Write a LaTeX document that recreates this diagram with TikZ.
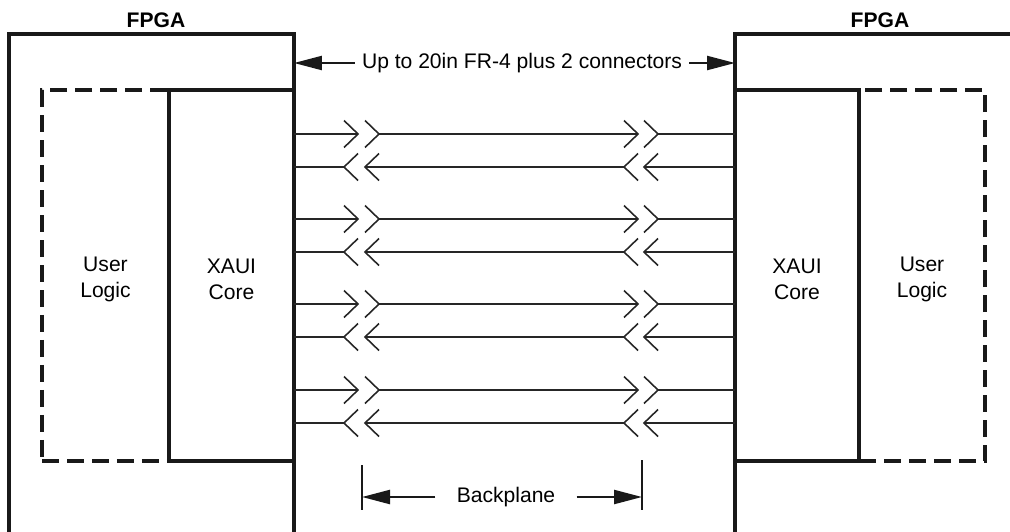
\documentclass[tikz,border=0pt]{standalone}
\usepackage{fontspec}
\setmainfont{Liberation Sans}
\usetikzlibrary{arrows.meta}
\newcommand{\lblfont}{\fontsize{12}{14.8}\selectfont}
\tikzstyle{fpga}=[line width=1.8pt, black!90]
\tikzstyle{core}=[draw=black!90, line width=1.8pt, outer sep=0pt, minimum height=7.42cm]
\tikzstyle{logic}=[core, dash pattern=on 0.34cm off 0.16cm]
\tikzstyle{lbl}=[font=\lblfont, align=center]
\tikzstyle{title}=[font=\lblfont\bfseries]
\tikzstyle{lane}=[line width=1pt, black!85]
\tikzstyle{chev}=[line width=0.9pt, black!85]
\tikzstyle{dim}=[line width=1.3pt, black!90, -{Triangle[length=0.56cm,width=0.28cm]}]
\tikzstyle{bar}=[line width=1.3pt, black!90]

\begin{document}
\begin{tikzpicture}[x=0.02cm, y=-0.02cm]
\useasboundingbox (0,0) rectangle (1010,531);
% the two FPGAs
\draw[fpga] (9,540) -- (9,34) -- (294,34) -- (294,540);
\draw[fpga] (1020,34) -- (735,34) -- (735,540);
\node[title] (fpgaL) at (156,20) {FPGA};
\node[title] (fpgaR) at (880,20) {FPGA};
% blocks inside
\node[logic, minimum width=2.54cm] (userL) at (105.5,275.5) {};
\node[core, minimum width=2.5cm] (coreL) at (231.5,275.5) {};
\node[logic, minimum width=2.52cm] (userR) at (922,275.5) {};
\node[core, minimum width=2.48cm] (coreR) at (797,275.5) {};
\node[lbl] (userLtxt) at ([yshift=-0.08cm]userL.center) {User\\Logic};
\node[lbl] (coreLtxt) at ([yshift=-0.08cm]coreL.center) {XAUI\\Core};
\node[lbl] (coreRtxt) at ([yshift=-0.08cm]coreR.center) {XAUI\\Core};
\node[lbl] (userRtxt) at ([yshift=-0.08cm]userR.center) {User\\Logic};
% four lanes, each a pair through two connectors
\foreach \y in {134,219,304,390}{
    \coordinate (tx) at (0,\y);
    \coordinate (rx) at (0,\y+33);
    \draw[lane] (coreL.east |- tx) -- (358,\y) (379,\y) -- (638,\y) (658,\y) -- (coreR.west |- tx);
    \draw[lane] (coreR.west |- rx) -- (645,\y+33) (624,\y+33) -- (365,\y+33) (344,\y+33) -- (coreL.east |- rx);
    \foreach \x in {358,379,638,658}{
        \draw[chev] (\x-14,\y-13.5) -- (\x,\y) -- (\x-14,\y+13.5);
        \draw[chev] (\x,\y+19.5) -- (\x-14,\y+33) -- (\x,\y+46.5);
    }
}
% dimensions
\node[font=\lblfont, inner sep=4pt] (span) at (522,63) {Up to 20in FR-4 plus 2 connectors};
\draw[dim] (span.west) -- (span.west -| coreL.east);
\draw[dim] (span.east) -- (span.east -| coreR.west);
\coordinate (bpL) at (362,497);
\coordinate (bpR) at (642,497);
\node[font=\lblfont, inner xsep=12pt] (bp) at (506,497) {Backplane};
\draw[bar] (bpL) ++(0,-32) -- ++(0,45);
\draw[bar] (bpR) ++(0,-37) -- ++(0,50);
\draw[dim] (bp.west) -- (bpL);
\draw[dim] (bp.east) -- (bpR);
\end{tikzpicture}
\end{document}
